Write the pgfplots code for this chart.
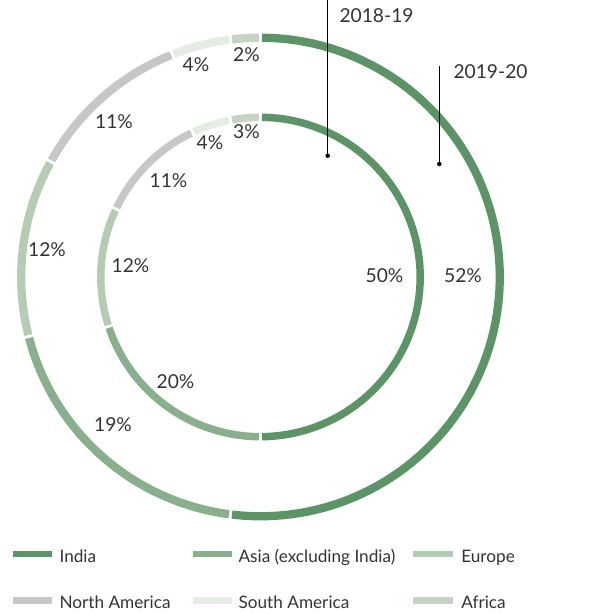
\documentclass[border=0pt]{standalone}
\usepackage{pgfplots}
\pgfplotsset{compat=1.18}
\usepackage{pgfplotstable}
\usepackage{fontspec}
\setmainfont{Lato}
\definecolor{cIndia}{HTML}{5C9467}
\definecolor{cAsia}{HTML}{8AAF8C}
\definecolor{cEurope}{HTML}{B4CCB4}
\definecolor{cNA}{HTML}{C6C7C9}
\definecolor{cSA}{HTML}{E4ECE4}
\definecolor{cAfrica}{HTML}{C3D5C2}
\definecolor{txt}{HTML}{333333}

% share of each region, per cent
\pgfplotstableread{
region   p1819 p1920 col
India    50    52    cIndia
Asia     20    19    cAsia
Europe   12    12    cEurope
NAmerica 11    11    cNA
SAmerica 4     4     cSA
Africa   3     2     cAfrica
}\shares

\begin{document}
\begin{tikzpicture}
\useasboundingbox (0,0) rectangle (450pt,460.5pt);
\clip (0,0) rectangle (450pt,460.5pt);
\begin{axis}[
  at={(0,0)}, anchor=south west,
  scale only axis, width=450pt, height=460.5pt,
  xmin=0, xmax=600, ymin=-614, ymax=0,
  hide axis, clip=false,
]
% outer ring: 2019-20
\xdef\cum{0}
\foreach \i in {0,...,5}{
  \pgfplotstablegetelem{\i}{p1920}\of\shares \let\p\pgfplotsretval
  \pgfplotstablegetelem{\i}{col}\of\shares \let\c\pgfplotsretval
  \pgfmathsetmacro\s{\cum+0.1}
  \pgfmathsetmacro\e{\cum+\p-0.1}
  \edef\temp{\noexpand\addplot[draw=\c, line width=6.2pt, domain=\s:\e, samples=90, no marks]
    ({260.5+239.3*cos(90-3.6*x)},{-277+239.3*sin(90-3.6*x)});}
  \temp
  \pgfmathsetmacro\n{\cum+\p}
  \xdef\cum{\n}
}
% inner ring: 2018-19
\xdef\cum{0}
\foreach \i in {0,...,5}{
  \pgfplotstablegetelem{\i}{p1819}\of\shares \let\p\pgfplotsretval
  \pgfplotstablegetelem{\i}{col}\of\shares \let\c\pgfplotsretval
  \pgfmathsetmacro\s{\cum+0.15}
  \pgfmathsetmacro\e{\cum+\p-0.15}
  \edef\temp{\noexpand\addplot[draw=\c, line width=5.6pt, domain=\s:\e, samples=90, no marks]
    ({260.5+159.7*cos(90-3.6*x)},{-277+159.7*sin(90-3.6*x)});}
  \temp
  \pgfmathsetmacro\n{\cum+\p}
  \xdef\cum{\n}
}
% value labels
\begin{scope}[every node/.style={anchor=base, text=txt, font=\fontsize{14.4}{17}\selectfont, inner sep=0pt}]
\node at (axis cs:463,-283) {52\%};
\node at (axis cs:113,-432) {19\%};
\node at (axis cs:47,-257) {12\%};
\node at (axis cs:114,-128.3) {11\%};
\node at (axis cs:196,-72) {4\%};
\node at (axis cs:246.5,-62) {2\%};
\node at (axis cs:384.5,-283) {50\%};
\node at (axis cs:175.5,-389) {20\%};
\node at (axis cs:130.5,-273) {12\%};
\node at (axis cs:168.5,-188) {11\%};
\node at (axis cs:210,-150) {4\%};
\node at (axis cs:246.5,-139) {3\%};
\end{scope}
% year callouts
\draw[black, line width=0.8pt] (axis cs:327.7,5) -- (axis cs:327.7,-155.7);
\fill[black] (axis cs:327.7,-155.7) circle (1.7pt);
\draw[black, line width=0.8pt] (axis cs:439.3,-65.7) -- (axis cs:439.3,-164);
\fill[black] (axis cs:439.3,-164) circle (1.7pt);
\node[anchor=base west, text=txt, inner sep=0pt, font=\fontsize{14.4}{17}\selectfont] at (axis cs:339.3,-22.7) {2018-19};
\node[anchor=base west, text=txt, inner sep=0pt, font=\fontsize{14.4}{17}\selectfont] at (axis cs:453.3,-78.3) {2019-20};
% legend
\begin{scope}[every node/.style={anchor=base west, text=txt, font=\fontsize{12.9}{15}\selectfont, inner sep=0pt}]
\draw[cIndia, line width=5pt] (axis cs:12.7,-554) -- (axis cs:52.3,-554);
\node at (axis cs:59.3,-562.3) {India};
\draw[cAsia, line width=5pt] (axis cs:192.7,-554) -- (axis cs:232.3,-554);
\node at (axis cs:238.3,-562.3) {Asia (excluding India)};
\draw[cEurope, line width=5pt] (axis cs:413,-554) -- (axis cs:453,-554);
\node at (axis cs:461,-562.3) {Europe};
\draw[cNA, line width=5pt] (axis cs:12.7,-600.3) -- (axis cs:52.3,-600.3);
\node at (axis cs:59.3,-608.3) {North America};
\draw[cSA, line width=5pt] (axis cs:192.7,-600.3) -- (axis cs:232.3,-600.3);
\node at (axis cs:238.3,-608.3) {South America};
\draw[cAfrica, line width=5pt] (axis cs:413,-600.3) -- (axis cs:453,-600.3);
\node at (axis cs:461,-608.3) {Africa};
\end{scope}
\end{axis}
\end{tikzpicture}
\end{document}
